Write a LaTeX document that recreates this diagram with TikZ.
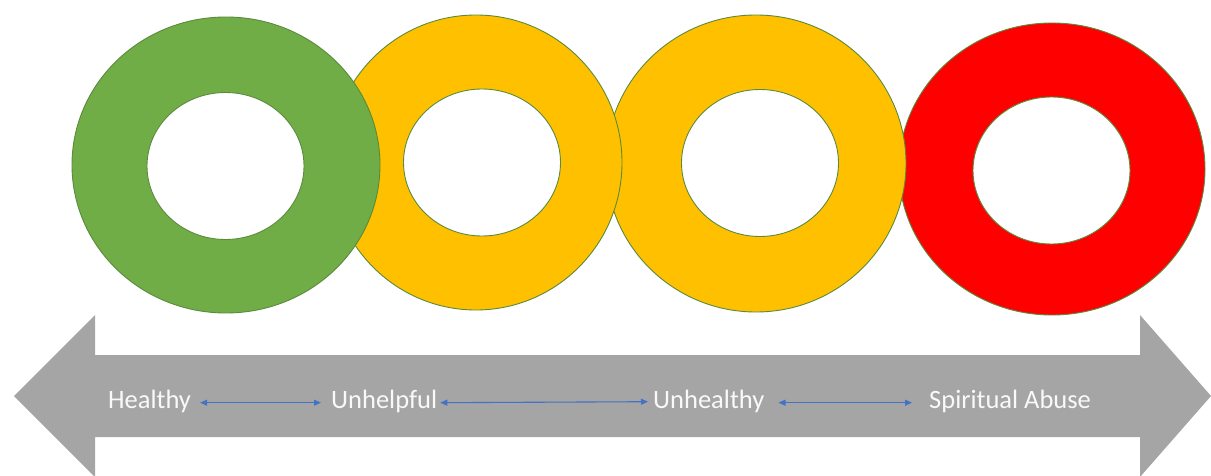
\documentclass[tikz,border=0pt]{standalone}
\usepackage{fontspec}
\setmainfont{Carlito}
\usepackage{xcolor}
\usetikzlibrary{arrows.meta,positioning,shapes.geometric}

\definecolor{ringgreen}{HTML}{70AD47}
\definecolor{ringyellow}{HTML}{FFC000}
\definecolor{ringred}{HTML}{FF0000}
\definecolor{ringedge}{HTML}{5A8A3C}
\definecolor{bargray}{HTML}{A5A5A5}
\definecolor{linkblue}{HTML}{4472C4}

\begin{document}
\begin{tikzpicture}[
  x=1pt, y=-1pt,
  ring/.style={draw=ringedge, line width=0.9pt, ellipse, inner sep=0pt},
  hole/.style={draw=ringedge, line width=0.9pt, ellipse, fill=white, inner sep=0pt, minimum width=157pt, minimum height=147pt},
  stage/.style={text=white!95!gray, font=\fontsize{26.5}{30}\selectfont, inner sep=0pt},
  link/.style={{Triangle[length=7pt,width=6pt]}-{Triangle[length=7pt,width=6pt]}, line width=1.1pt, color=linkblue},
]
\path[use as bounding box] (0,0) rectangle (1211,476);

% rings, right to left so the green one lies on top
\node[ring, fill=ringred, minimum width=306pt, minimum height=292pt] (abuse) at (1052,169) {};
\node[hole] (abuse hole) at (1051.5,170.5) {};
\node[ring, fill=ringyellow, minimum width=300pt, minimum height=297pt] (unhealthy ring) at (756,163.5) {};
\node[hole] (unhealthy hole) at (760,163) {};
\node[ring, fill=ringyellow, minimum width=292pt, minimum height=295pt] (unhelpful ring) at (476,162.5) {};
\node[hole] (unhelpful hole) at (482,162.5) {};
\node[ring, fill=ringgreen, minimum width=308pt, minimum height=296pt] (healthy ring) at (226,165) {};
\node[hole] (healthy hole) at (225.5,166) {};

% the grey scale
\fill[bargray] (14,396) -- (95,315) -- (95,355) -- (1140,355) -- (1140,315) -- (1211,396)
  -- (1140,477) -- (1140,437) -- (95,437) -- (95,477) -- cycle;

\node[stage, anchor=base west] (healthy) at (108,408) {Healthy};
\node[stage, anchor=base west] (unhelpful) at (331,408) {Unhelpful};
\node[stage, anchor=base west] (unhealthy) at (653,408) {Unhealthy};
\node[stage, anchor=base west] (spiritual) at (929,408) {Spiritual Abuse};

\draw[link] ([xshift=9pt,yshift=5.3pt]healthy.base east) -- ([xshift=-10pt,yshift=5.3pt]unhelpful.base west);
\draw[link] ([xshift=3pt,yshift=5.3pt]unhelpful.base east) -- ([xshift=-5pt,yshift=6.3pt]unhealthy.base west);
\draw[link] ([xshift=14pt,yshift=5.3pt]unhealthy.base east) -- ([xshift=-17pt,yshift=5.3pt]spiritual.base west);

\end{tikzpicture}
\end{document}
